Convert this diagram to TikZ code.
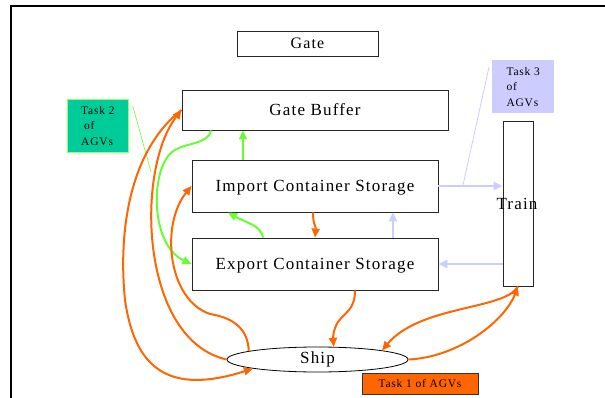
\documentclass[tikz,border=0pt]{standalone}
\usepackage{fontspec}
\setmainfont{Liberation Serif}
\newfontfamily\boxfont[LetterSpace=7]{Liberation Serif}
\usepackage{tikz}
\usetikzlibrary{shapes.geometric,arrows.meta,calc}

\definecolor{agvorange}{RGB}{255,102,0}
\definecolor{agvgreen}{RGB}{102,255,51}
\definecolor{agvlilac}{RGB}{204,204,255}
\definecolor{agvteal}{RGB}{0,204,153}

\tikzset{
  area/.style={rectangle, draw=black!85, line width=0.9pt, inner sep=0pt, text depth=0pt,
    font=\boxfont\fontsize{17}{20}\selectfont},
  tasknote/.style={rectangle, inner sep=0pt, align=left, anchor=north west,
    font=\boxfont\fontsize{11.5}{15.5}\selectfont},
  oline/.style={draw=agvorange, line width=2pt, -{Triangle[length=9pt,width=8pt]}},
  gline/.style={draw=agvgreen, line width=2pt, -{Triangle[length=9pt,width=8pt]}},
  lline/.style={draw=agvlilac, line width=2.4pt, -{Triangle[length=9pt,width=8pt]}},
}

\begin{document}
\begin{tikzpicture}[x=1pt,y=-1pt]
\useasboundingbox (0,0) rectangle (605,398);
\draw[line width=2.5pt] (11,398) -- (11,6) -- (605,6);

\node (gate) at (307.5,43.5) [area, minimum width=141pt, minimum height=25pt,
  font=\boxfont\fontsize{16}{18}\selectfont] {Gate};
\node (buffer) at (315,110) [area, minimum width=266pt, minimum height=40pt] {Gate Buffer};
\node (import) at (315,186) [area, minimum width=246pt, minimum height=52pt] {Import Container Storage};
\node (export) at (315,264) [area, minimum width=246pt, minimum height=52pt] {Export Container Storage};
\node (train) at (518,203.5) [area, minimum width=30pt, minimum height=165pt] {};
	\node (traintxt) at (517,204) [font=\boxfont\fontsize{17}{20}\selectfont] {Train};
\node (ship) at (317.5,359.5) [ellipse, draw, line width=0.8pt, inner sep=0pt,
  minimum width=181pt, minimum height=25pt, font=\boxfont\fontsize{17}{20}\selectfont] {Ship};

% task notes
\node (task1) at (420,383.5) [rectangle, draw=black!80, fill=agvorange, inner sep=0pt,
  minimum width=116pt, minimum height=21pt, font=\boxfont\fontsize{11.5}{13}\selectfont] {Task 1 of AGVs};
\node (task2) at (67,99) [tasknote, fill=agvteal, draw=agvgreen!70, line width=0.8pt,
  minimum width=61pt, minimum height=53pt, inner xsep=7pt, inner ysep=3pt] {Task 2\\\hspace*{3pt}of\\AGVs};
\node (task3) at (492,60) [tasknote, fill=agvlilac,
  minimum width=62pt, minimum height=53pt, inner xsep=7pt, inner ysep=3pt] {Task 3\\of\\AGVs};
\coordinate (g2tip) at (151,172);
\coordinate (l3tip) at (463,185);
\draw[agvgreen, line width=0.6pt] ($(task2.north east)+(4,7)$) -- (g2tip);
\draw[agvlilac, line width=0.8pt] ($(task3.north west)+(-3,7)$) -- (l3tip);

% green moves
\draw[gline] ($(import.north)+(-72,0)$) -- ($(buffer.south)+(-72,0)$);
\draw[gline] ($(buffer.south)+(-104,0)$) .. controls (208,145) and (185,142) .. (172,152)
  .. controls (150,170) and (150,245) .. (export.west);
\draw[gline] ($(export.north)+(-52,0)$) .. controls (262,226) and (245,222) .. ($(import.south)+(-87,0)$);

% lilac moves
\draw[lline] (import.east) -- (import.east -| train.west);
\draw[lline] (export.east -| train.west) -- (export.east);
\draw[lline] ($(export.north)+(78,0)$) -- ($(import.south)+(78,0)$);

% orange moves
\draw[oline] ($(import.south)+(-2,0)$) .. controls (313,225) and (316,226) .. (export.north);
\draw[oline] ($(export.south)+(40,0)$) .. controls (355,310) and (345,312) .. (338,322)
  .. controls (333,330) and (333,338) .. (ship.38);
\draw[oline] (ship.east) .. controls (460,357) and (505,320) .. (train.south);
\draw[oline] (train.south) .. controls (505,310) and (420,305) .. (ship.8);
\draw[oline] (ship.173) .. controls (248,330) and (235,318) .. (210,314)
  .. controls (168,300) and (160,225) .. (import.west);
\draw[oline] (ship.west) .. controls (140,340) and (135,170) .. (buffer.west);
\draw[oline] (buffer.west) .. controls (130,150) and (118,230) .. (125,300)
  .. controls (135,370) and (170,395) .. (ship.188);
\end{tikzpicture}
\end{document}
